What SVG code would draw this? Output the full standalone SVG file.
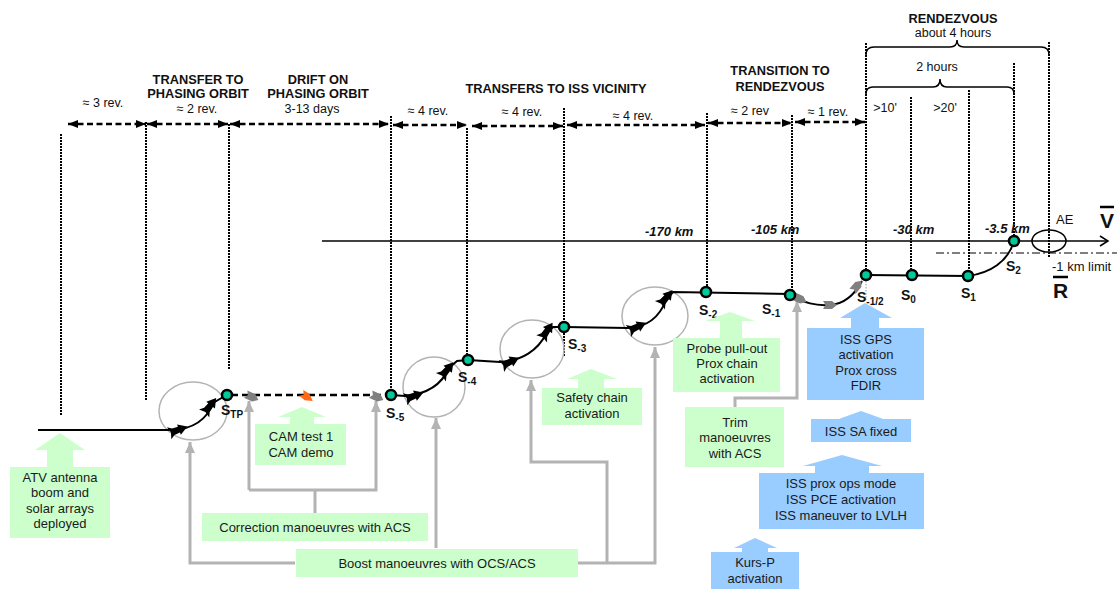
<svg xmlns="http://www.w3.org/2000/svg" xmlns:xlink="http://www.w3.org/1999/xlink" width="1117" height="589" viewBox="0 0 1117 589">
<style>
text{font-family:"Liberation Sans",Arial,sans-serif;fill:#111}
.h{font-size:12.8px;font-weight:bold;text-anchor:middle}
.r{font-size:12.5px;text-anchor:middle}
.km{font-size:13px;font-weight:bold;font-style:italic}
.bx{font-size:13px;text-anchor:middle;fill:#1a1a1a}
.nl{font-size:14px;font-weight:bold}
.sub{font-size:10px}
.vl{stroke:#000;stroke-width:2;stroke-dasharray:2 1;fill:none}
.da{stroke:#000;stroke-width:2.5;stroke-dasharray:6 3.5;fill:none;marker-start:url(#ah);marker-end:url(#ah)}
.gc{stroke:#b3b3b3;stroke-width:3;fill:none}
.ga{marker-end:url(#ga)}
.tr{stroke:#000;stroke-width:2;fill:none}
.ring{stroke:#b3b3b3;stroke-width:1.5;fill:none}
.gb{fill:#ccffcc}
.bb{fill:#99ccff}
.node{fill:#00c99c;stroke:#000;stroke-width:2.5}
.br{stroke:#000;stroke-width:1.5;fill:none}
</style>
<defs>
<marker id="ah" viewBox="0 0 10 8" refX="10" refY="4" markerWidth="10" markerHeight="8" orient="auto-start-reverse" markerUnits="userSpaceOnUse"><path d="M0,0 L10,4 L0,8 Z" fill="#000"/></marker>
<marker id="ga" viewBox="0 0 11 10" refX="11" refY="5" markerWidth="11" markerHeight="10" orient="auto" markerUnits="userSpaceOnUse"><path d="M0,0 L11,5 L0,10 Z" fill="#b3b3b3"/></marker>
<path id="thr" d="M10,0 L1,-5.5 L1,-3 L-5,-3.5 L-9.5,-6.5 L-7.5,0 L-9.5,6.5 L-5,3.5 L1,3 L1,5.5 Z" fill="#000"/>
<path id="gthr" d="M7,0 L2,-4 L-7,-4 L-4.5,0 L-7,4 L2,4 Z" fill="#808080"/>
<path id="othr" d="M7,0 L0,-4 L-7,-3.5 L-4,0 L-7,3.5 L0,4 Z" fill="#ff6a13"/>
</defs>

<g id="timeline">
<path class="da" d="M68,124 L146,124"/>
<path class="da" d="M147,124 L228,124"/>
<path class="da" d="M230,124 L389,124"/>
<path class="da" d="M393,125 L467,125"/>
<path class="da" d="M472,126 L563,126"/>
<path class="da" d="M567,125 L705,125"/>
<path class="da" d="M708,123 L792,123"/>
<path class="da" d="M795,122 L865,122"/>
<text class="r" x="103" y="107">≈ 3 rev.</text>
<text class="h" x="198" y="84">TRANSFER TO</text>
<text class="h" x="198" y="98">PHASING ORBIT</text>
<text class="r" x="197" y="113">≈ 2 rev.</text>
<text class="h" x="318" y="84">DRIFT ON</text>
<text class="h" x="318" y="98">PHASING ORBIT</text>
<text class="r" x="312" y="113">3-13 days</text>
<text class="r" x="428" y="115">≈ 4 rev.</text>
<text class="r" x="522" y="116">≈ 4 rev.</text>
<text class="r" x="633" y="120">≈ 4 rev.</text>
<text class="h" x="556" y="93">TRANSFERS TO ISS VICINITY</text>
<text class="h" x="780" y="75">TRANSITION TO</text>
<text class="h" x="780" y="91">RENDEZVOUS</text>
<text class="r" x="750" y="115">≈ 2 rev</text>
<text class="r" x="828" y="116">≈ 1 rev.</text>
<text class="h" x="953" y="23">RENDEZVOUS</text>
<text class="r" x="953" y="37">about 4 hours</text>
<text class="r" x="937" y="71">2 hours</text>
<text class="r" x="885" y="112">&gt;10'</text>
<text class="r" x="945" y="112">&gt;20'</text>
<path class="br" d="M866,55 Q866,47 874,47 L950,47 Q957,47 957,40 Q957,47 964,47 L1041,47 Q1049,47 1049,55"/>
<path class="br" d="M866,94 Q866,87 873,87 L933,87 Q940,87 940,79 Q940,87 947,87 L1007,87 Q1014,87 1014,94"/>
</g>

<g id="verticals">
<path class="vl" d="M61,134 V415"/>
<path class="vl" d="M146,122 V400"/>
<path class="vl" d="M229,124 V370"/>
<path class="vl" d="M391,116 V391"/>
<path class="vl" d="M467,128 V357"/>
<path class="vl" d="M564,108 V357"/>
<path class="vl" d="M707,113 V288"/>
<path class="vl" d="M792,115 V291"/>
<path class="vl" d="M866,43 V271"/>
<path class="vl" d="M911,97 V271"/>
<path class="vl" d="M969,90 V272"/>
<path class="vl" d="M1014,63 V237"/>
<path class="vl" d="M1049,42 V258"/>
<path d="M866,281 V300" stroke="#999" stroke-width="1" stroke-dasharray="1.5 1.5"/>
</g>

<g id="axis">
<path d="M322,241 L1108,241" stroke="#000" stroke-width="1.5" fill="none"/>
<path d="M1100,236 L1108,241 L1100,246" stroke="#000" stroke-width="1.5" fill="none"/>
<path d="M936,253 L1117,253" stroke="#000" stroke-width="1.2" stroke-dasharray="8 3 2 3"/>
<ellipse cx="1049" cy="241" rx="17" ry="11" stroke="#000" stroke-width="1.5" fill="none"/>
<text x="1056" y="224" style="font-size:13px">AE</text>
<text x="1100" y="228" style="font-size:21px;font-weight:bold">V</text>
<path d="M1100,207 H1114" stroke="#000" stroke-width="2.5"/>
<text x="1053" y="298" style="font-size:21px;font-weight:bold">R</text>
<path d="M1053,277 H1068" stroke="#000" stroke-width="2.5"/>
<text x="1052" y="271" style="font-size:13px">-1 km limit</text>
<text class="km" x="645" y="236">-170 km</text>
<text class="km" x="751" y="234">-105 km</text>
<text class="km" x="893" y="234">-30 km</text>
<text class="km" x="985" y="233">-3.5 km</text>
</g>

<g id="rings">
<ellipse class="ring" cx="193" cy="411" rx="34" ry="29"/>
<ellipse class="ring" cx="434" cy="387" rx="31" ry="30"/>
<ellipse class="ring" cx="532" cy="349" rx="32" ry="29"/>
<ellipse class="ring" cx="655" cy="316" rx="33" ry="29"/>
</g>

<g id="connectors">
<path class="gc ga" d="M295,563 H190 V442"/>
<path class="gc ga" d="M436,548 V418"/>
<path class="gc ga" d="M577,563 H655 V347"/>
<path class="gc ga" d="M607,563 V462 H531 V380"/>
<path class="gc" d="M315,513 V490"/>
<path class="gc ga" d="M249,490 H376 V401"/>
<path class="gc ga" d="M249,490 V401"/>
<path class="gc ga" d="M735,407 V398 H797 V301"/>
</g>

<g id="trajectory">
<path class="tr" d="M38,430 L172,430 C195,429 207,419 213,403 L225,396"/>
<path d="M231,395 L387,395" stroke="#000" stroke-width="2.5" stroke-dasharray="7 4" fill="none"/>
<path class="tr" d="M391,395 L405,396 C428,394 442,384 449,368 L457,361 L468,360"/>
<path class="tr" d="M468,360 L500,362 C522,361 538,350 546,334 L553,327 L564,327"/>
<path class="tr" d="M564,327 L628,328 C648,327 660,316 666,300 L673,292 L790,294"/>
<path class="tr" d="M790,295 C805,303 815,306 830,305 C845,304 855,294 862,281"/>
<path class="tr" d="M865,275 L968,276 C990,273 1008,262 1014,241"/>
<use xlink:href="#thr" href="#thr" transform="translate(178 430) rotate(-20)"/>
<use xlink:href="#thr" href="#thr" transform="translate(210 406) rotate(-52)"/>
<use xlink:href="#thr" href="#thr" transform="translate(414 396) rotate(-20)"/>
<use xlink:href="#thr" href="#thr" transform="translate(447 370) rotate(-50)"/>
<use xlink:href="#thr" href="#thr" transform="translate(510 362) rotate(-25)"/>
<use xlink:href="#thr" href="#thr" transform="translate(547 331) rotate(-56)"/>
<use xlink:href="#thr" href="#thr" transform="translate(637 327) rotate(-25)"/>
<use xlink:href="#thr" href="#thr" transform="translate(666 298) rotate(-50)"/>
<use xlink:href="#gthr" href="#gthr" transform="translate(252 397) rotate(25)"/>
<use xlink:href="#gthr" href="#gthr" transform="translate(377 397) rotate(25)"/>
<use xlink:href="#othr" href="#othr" transform="translate(307 397) rotate(35)"/>
<use xlink:href="#gthr" href="#gthr" transform="translate(800 299) rotate(25)"/>
<use xlink:href="#gthr" href="#gthr" transform="translate(830 305) rotate(0)"/>
<use xlink:href="#gthr" href="#gthr" transform="translate(857 286) rotate(-50)"/>
</g>

<g id="node-STP"><circle class="node" cx="227" cy="395" r="5"/><text class="nl" x="221" y="415">S<tspan class="sub" dy="3">TP</tspan></text></g>
<g id="node-S-5"><circle class="node" cx="391" cy="395" r="5"/><text class="nl" x="386" y="418">S<tspan class="sub" dy="3">-5</tspan></text></g>
<g id="node-S-4"><circle class="node" cx="468" cy="360" r="5"/><text class="nl" x="458" y="382">S<tspan class="sub" dy="3">-4</tspan></text></g>
<g id="node-S-3"><circle class="node" cx="564" cy="327" r="5"/><text class="nl" x="568" y="349">S<tspan class="sub" dy="3">-3</tspan></text></g>
<g id="node-S-2"><circle class="node" cx="706" cy="292" r="5"/><text class="nl" x="699" y="315">S<tspan class="sub" dy="3">-2</tspan></text></g>
<g id="node-S-1"><circle class="node" cx="790" cy="295" r="5"/><text class="nl" x="762" y="314">S<tspan class="sub" dy="3">-1</tspan></text></g>
<g id="node-S-half"><circle class="node" cx="866" cy="275" r="5"/><text class="nl" x="857" y="302">S<tspan class="sub" dy="3">-1/2</tspan></text></g>
<g id="node-S0"><circle class="node" cx="912" cy="275" r="5"/><text class="nl" x="901" y="300">S<tspan class="sub" dy="3">0</tspan></text></g>
<g id="node-S1"><circle class="node" cx="968" cy="276" r="5"/><text class="nl" x="961" y="298">S<tspan class="sub" dy="3">1</tspan></text></g>
<g id="node-S2"><circle class="node" cx="1014" cy="241" r="5"/><text class="nl" x="1006" y="271">S<tspan class="sub" dy="3">2</tspan></text></g>

<g id="box-atv">
<path class="gb" d="M60,433 L85,450 L73,450 L73,468 L47,468 L47,450 L35,450 Z"/>
<rect class="gb" x="10" y="467" width="100" height="71"/>
<text class="bx" x="60" y="482">ATV antenna</text>
<text class="bx" x="60" y="497">boom and</text>
<text class="bx" x="60" y="513">solar arrays</text>
<text class="bx" x="60" y="528">deployed</text>
</g>
<g id="box-cam">
<path class="gb" d="M302,407 L326,417 L314,417 L314,425 L290,425 L290,417 L278,417 Z"/>
<rect class="gb" x="255" y="424" width="91" height="41"/>
<text class="bx" x="301" y="441">CAM test 1</text>
<text class="bx" x="301" y="457">CAM demo</text>
</g>
<g id="box-correction">
<rect class="gb" x="202" y="513" width="226" height="28"/>
<text class="bx" x="315" y="532">Correction manoeuvres with ACS</text>
</g>
<g id="box-boost">
<rect class="gb" x="296" y="549" width="282" height="28"/>
<text class="bx" x="437" y="568">Boost manoeuvres with OCS/ACS</text>
</g>
<g id="box-safety">
<path class="gb" d="M591,369 L617,379 L604,379 L604,389 L578,389 L578,379 L567,379 Z"/>
<rect class="gb" x="542" y="388" width="100" height="37"/>
<text class="bx" x="592" y="402">Safety chain</text>
<text class="bx" x="592" y="418">activation</text>
</g>
<g id="box-probe">
<path class="gb" d="M730,312 L755,321 L742,321 L742,339 L720,339 L720,321 L705,321 Z"/>
<rect class="gb" x="673" y="338" width="107" height="54"/>
<text class="bx" x="727" y="353">Probe pull-out</text>
<text class="bx" x="727" y="368">Prox chain</text>
<text class="bx" x="727" y="383">activation</text>
</g>
<g id="box-trim">
<rect class="gb" x="685" y="407" width="99" height="60"/>
<text class="bx" x="735" y="427">Trim</text>
<text class="bx" x="735" y="442">manoeuvres</text>
<text class="bx" x="735" y="458">with ACS</text>
</g>
<g id="box-gps">
<path class="bb" d="M865,303 L892,318 L879,318 L879,329 L851,329 L851,318 L840,318 Z"/>
<rect class="bb" x="807" y="328" width="117" height="72"/>
<text class="bx" x="866" y="344">ISS GPS</text>
<text class="bx" x="866" y="359">activation</text>
<text class="bx" x="866" y="375">Prox cross</text>
<text class="bx" x="866" y="390">FDIR</text>
</g>
<g id="box-sa">
<path class="bb" d="M861,411 L886,420 L836,420 Z"/>
<rect class="bb" x="811" y="419" width="100" height="23"/>
<text class="bx" x="861" y="436">ISS SA fixed</text>
</g>
<g id="box-prox">
<path class="bb" d="M842,455 L882,466 L869,466 L869,474 L815,474 L815,466 L803,466 Z"/>
<rect class="bb" x="759" y="473" width="165" height="56"/>
<text class="bx" x="841" y="488">ISS prox ops mode</text>
<text class="bx" x="841" y="504">ISS PCE activation</text>
<text class="bx" x="841" y="520">ISS maneuver to LVLH</text>
</g>
<g id="box-kurs">
<path class="bb" d="M755,538 L777,548 L768,548 L768,553 L742,553 L742,548 L734,548 Z"/>
<rect class="bb" x="711" y="552" width="88" height="37"/>
<text class="bx" x="755" y="567">Kurs-P</text>
<text class="bx" x="755" y="583">activation</text>
</g>
</svg>
